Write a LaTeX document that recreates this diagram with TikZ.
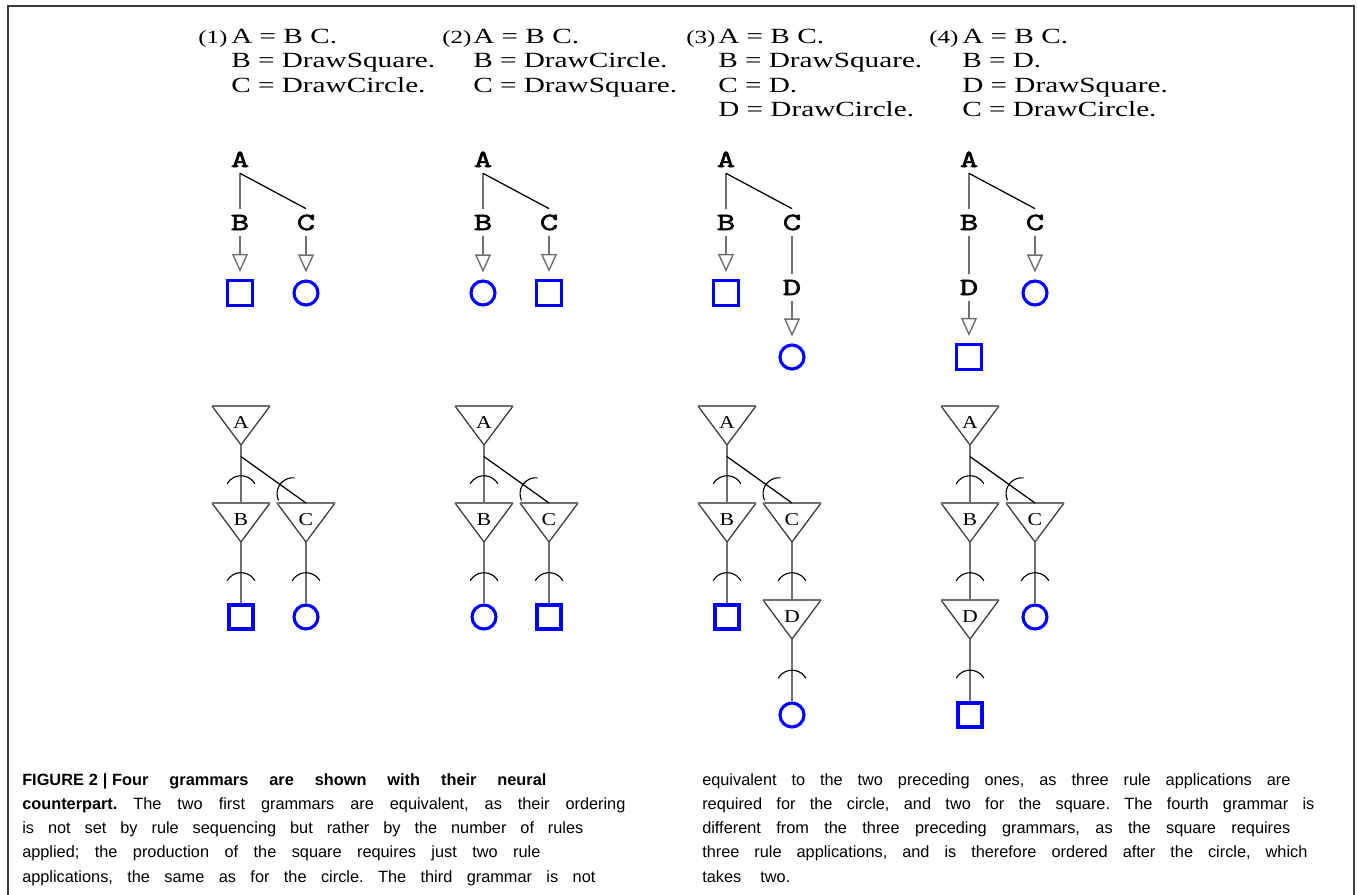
\documentclass[tikz,border=0pt]{standalone}
\usepackage{fontspec}
\usepackage{xcolor}
\usepackage{tikz}
\usetikzlibrary{arrows.meta}
\usetikzlibrary{positioning, calc}
\newfontfamily\gramfont[FakeStretch=1.35]{Liberation Serif}
\newfontfamily\neurfont[FakeStretch=1.2]{Liberation Serif}
\newfontfamily\treefont[FakeStretch=1.45, FakeBold=2.5]{Latin Modern Mono}
\newfontfamily\capfont{Liberation Sans}
\definecolor{linegray}{RGB}{112,112,112}
\definecolor{edgedark}{RGB}{60,60,60}
\definecolor{shapeblue}{RGB}{0,0,255}
\tikzset{ 
rule line/.style = { anchor = base west, inner sep = 0pt, font = \gramfont\fontsize{15.4}{17}\selectfont },
rule num/.style = { anchor = base west, inner sep = 0pt, font = \gramfont\fontsize{13.2}{15}\selectfont },
sym/.style = { anchor = base, inner sep = 4.3pt, text height = 10.7pt, text depth = 0pt, font = \treefont\fontsize{17.5}{19}\selectfont },
trunk/.style = { draw = linegray, line width = 1.4pt },
branch/.style = { draw = black, line width = 0.9pt },
derive/.style = { draw = linegray, line width = 1pt, -{Triangle[open, length = 4.5mm, width = 4mm]}, shorten > = 1.75mm },
tsq/.style = { rectangle, draw = shapeblue, line width = 2.2pt, minimum size = 6.25mm, inner sep = 0pt },
tci/.style = { circle, draw = shapeblue, line width = 2.2pt, minimum size = 6mm, inner sep = 0pt },
nsq/.style = { rectangle, draw = shapeblue, line width = 2.4pt, minimum size = 6mm, inner sep = 0pt },
nci/.style = { circle, draw = shapeblue, line width = 2.2pt, minimum size = 6mm, inner sep = 0pt },
ntrunk/.style = { draw = linegray, line width = 1.6pt },
nbranch/.style = { draw = black, line width = 0.9pt },
nlabel/.style = { inner sep = 0pt, font = \neurfont\fontsize{12.9}{14}\selectfont },
cap line/.style = { anchor = base west, inner sep = 0pt, font = \capfont\fontsize{11.6}{13}\selectfont\frenchspacing },
frame/.style = { draw = edgedark, line width = 1.1pt },
}
\tikzset{
pics/neuron/.style = {
        code = {
        \coordinate (-top) at (0, 0);
        \coordinate (-apex) at (0, -39);
        \draw[edgedark, line width = 0.9pt, line join = miter] (-29, 0) -- (0, -39) -- (29, 0);
        \draw[linegray, line width = 2pt] (-29, 0) -- (29, 0);
        \node[nlabel] (-label) at (0, -17) {#1};
        }
    },
pics/synapse/.style = {
        code = {
        \draw[black, line width = 0.8pt] (8, 13.86) arc[start angle = 120, end angle = 240, radius = 16];
        }
    },
syn/.style = { pos = #1, sloped, allow upside down },
}

\begin{document}
\begin{tikzpicture}[x = 0.025cm, y = 0.025cm]
    \useasboundingbox (0, 0) rectangle (1357, -895);
    \draw[frame] (8, -895) -- (8, -6) -- (1354, -6) -- (1354, -895);
    % grammars
    \node[rule num] (g1n) at (198, -43) {(1)};
    \node[rule line] (g1a) at (231, -43) {A = B C.};
    \node[rule line] (g1b) at (231, -67.5) {B = DrawSquare.};
    \node[rule line] (g1c) at (231, -92) {C = DrawCircle.};
    \node[rule num] (g2n) at (442, -43) {(2)};
    \node[rule line] (g2a) at (473, -43) {A = B C.};
    \node[rule line] (g2b) at (473, -67.5) {B = DrawCircle.};
    \node[rule line] (g2c) at (473, -92) {C = DrawSquare.};
    \node[rule num] (g3n) at (686, -43) {(3)};
    \node[rule line] (g3a) at (718, -43) {A = B C.};
    \node[rule line] (g3b) at (718, -67.5) {B = DrawSquare.};
    \node[rule line] (g3c) at (718, -92) {C = D.};
    \node[rule line] (g3d) at (718, -116.5) {D = DrawCircle.};
    \node[rule num] (g4n) at (929, -43) {(4)};
    \node[rule line] (g4a) at (962, -43) {A = B C.};
    \node[rule line] (g4b) at (962, -67.5) {B = D.};
    \node[rule line] (g4c) at (962, -92) {D = DrawSquare.};
    \node[rule line] (g4d) at (962, -116.5) {C = DrawCircle.};
    % derivation trees
    \node[sym] (tA1) at (240, -167) {A};
    \node[sym] (tB1) at (240, -230) {B};
    \node[sym] (tC1) at (306, -230) {C};
    \node[tsq] (tS1) at (240, -293) {};
    \node[tci] (tO1) at (306, -293) {};
    \draw[trunk] (tA1.south) -- (tB1.north);
    \draw[branch] (tA1.south) -- (tC1.north);
    \draw[derive] (tB1.south) -- (tS1);
    \draw[derive] (tC1.south) -- (tO1);
    \node[sym] (tA2) at (483, -167) {A};
    \node[sym] (tB2) at (483, -230) {B};
    \node[sym] (tC2) at (549, -230) {C};
    \node[tci] (tO2) at (483, -293) {};
    \node[tsq] (tS2) at (549, -293) {};
    \draw[trunk] (tA2.south) -- (tB2.north);
    \draw[branch] (tA2.south) -- (tC2.north);
    \draw[derive] (tB2.south) -- (tO2);
    \draw[derive] (tC2.south) -- (tS2);
    \node[sym] (tA3) at (726, -167) {A};
    \node[sym] (tB3) at (726, -230) {B};
    \node[sym] (tC3) at (792, -230) {C};
    \node[tsq] (tS3) at (726, -293) {};
    \node[sym] (tD3) at (792, -295) {D};
    \node[tci] (tO3) at (792, -357) {};
    \draw[trunk] (tA3.south) -- (tB3.north);
    \draw[branch] (tA3.south) -- (tC3.north);
    \draw[derive] (tB3.south) -- (tS3);
    \draw[trunk] (tC3.south) -- (tD3.north);
    \draw[derive] (tD3.south) -- (tO3);
    \node[sym] (tA4) at (969, -167) {A};
    \node[sym] (tB4) at (969, -230) {B};
    \node[sym] (tC4) at (1035, -230) {C};
    \node[sym] (tD4) at (969, -295) {D};
    \node[tci] (tO4) at (1035, -293) {};
    \node[tsq] (tS4) at (969, -357) {};
    \draw[trunk] (tA4.south) -- (tB4.north);
    \draw[branch] (tA4.south) -- (tC4.north);
    \draw[trunk] (tB4.south) -- (tD4.north);
    \draw[derive] (tC4.south) -- (tO4);
    \draw[derive] (tD4.south) -- (tS4);
    % neural counterparts
    \pic (nA1) at (241, -406) {neuron = A};
    \pic (nB1) at (241, -503) {neuron = B};
    \pic (nC1) at (306, -503) {neuron = C};
    \node[nsq] (nS1) at (241, -617) {};
    \node[nci] (nO1) at (306, -617) {};
    \coordinate (nF1) at ($(nA1-apex)!0.2!(nB1-top)$);
    \draw[ntrunk] (nA1-apex) -- pic[syn = 0.53]{synapse} (nB1-top);
    \draw[nbranch] (nF1) -- pic[syn = 0.6]{synapse} (nC1-top);
    \draw[ntrunk] (nB1-apex) -- pic[syn = 0.5]{synapse} (nS1);
    \draw[ntrunk] (nC1-apex) -- pic[syn = 0.5]{synapse} (nO1);
    \pic (nA2) at (484, -406) {neuron = A};
    \pic (nB2) at (484, -503) {neuron = B};
    \pic (nC2) at (549, -503) {neuron = C};
    \node[nci] (nO2) at (484, -617) {};
    \node[nsq] (nS2) at (549, -617) {};
    \coordinate (nF2) at ($(nA2-apex)!0.2!(nB2-top)$);
    \draw[ntrunk] (nA2-apex) -- pic[syn = 0.53]{synapse} (nB2-top);
    \draw[nbranch] (nF2) -- pic[syn = 0.6]{synapse} (nC2-top);
    \draw[ntrunk] (nB2-apex) -- pic[syn = 0.5]{synapse} (nO2);
    \draw[ntrunk] (nC2-apex) -- pic[syn = 0.5]{synapse} (nS2);
    \pic (nA3) at (727, -406) {neuron = A};
    \pic (nB3) at (727, -503) {neuron = B};
    \pic (nC3) at (792, -503) {neuron = C};
    \pic (nD3) at (792, -600) {neuron = D};
    \node[nsq] (nS3) at (727, -617) {};
    \node[nci] (nO3) at (792, -715) {};
    \coordinate (nF3) at ($(nA3-apex)!0.2!(nB3-top)$);
    \draw[ntrunk] (nA3-apex) -- pic[syn = 0.53]{synapse} (nB3-top);
    \draw[nbranch] (nF3) -- pic[syn = 0.6]{synapse} (nC3-top);
    \draw[ntrunk] (nB3-apex) -- pic[syn = 0.5]{synapse} (nS3);
    \draw[ntrunk] (nC3-apex) -- pic[syn = 0.53]{synapse} (nD3-top);
    \draw[ntrunk] (nD3-apex) -- pic[syn = 0.5]{synapse} (nO3);
    \pic (nA4) at (970, -406) {neuron = A};
    \pic (nB4) at (970, -503) {neuron = B};
    \pic (nC4) at (1035, -503) {neuron = C};
    \pic (nD4) at (970, -600) {neuron = D};
    \node[nci] (nO4) at (1035, -617) {};
    \node[nsq] (nS4) at (970, -715) {};
    \coordinate (nF4) at ($(nA4-apex)!0.2!(nB4-top)$);
    \draw[ntrunk] (nA4-apex) -- pic[syn = 0.53]{synapse} (nB4-top);
    \draw[nbranch] (nF4) -- pic[syn = 0.6]{synapse} (nC4-top);
    \draw[ntrunk] (nB4-apex) -- pic[syn = 0.53]{synapse} (nD4-top);
    \draw[ntrunk] (nC4-apex) -- pic[syn = 0.5]{synapse} (nO4);
    \draw[ntrunk] (nD4-apex) -- pic[syn = 0.5]{synapse} (nS4);
    % caption
    \node[cap line] (cap1) at (22, -785) {\makebox[13.1cm][s]{\bfseries FIGURE\kern0.3em 2\kern0.3em|\kern0.3em Four grammars are shown with their neural}};
    \node[cap line] (cap2) at (22, -809.3) {\makebox[15.075cm][s]{\textbf{counterpart.} The two first grammars are equivalent, as their ordering}};
    \node[cap line] (cap3) at (22, -833.5) {\makebox[14.025cm][s]{is not set by rule sequencing but rather by the number of rules}};
    \node[cap line] (cap4) at (22, -857.8) {\makebox[12.95cm][s]{applied; the production of the square requires just two rule}};
    \node[cap line] (cap5) at (22, -882) {\makebox[14.325cm][s]{applications, the same as for the circle. The third grammar is not}};
    \node[cap line] (cap6) at (702, -785) {\makebox[14.7cm][s]{equivalent to the two preceding ones, as three rule applications are}};
    \node[cap line] (cap7) at (702, -809.3) {\makebox[15.3cm][s]{required for the circle, and two for the square. The fourth grammar is}};
    \node[cap line] (cap8) at (702, -833.5) {\makebox[14.7cm][s]{different from the three preceding grammars, as the square requires}};
    \node[cap line] (cap9) at (702, -857.8) {\makebox[15.125cm][s]{three rule applications, and is therefore ordered after the circle, which}};
    \node[cap line] (cap10) at (702, -882) {\makebox[2.2cm][s]{takes two.}};
  \end{tikzpicture}
\end{document}
